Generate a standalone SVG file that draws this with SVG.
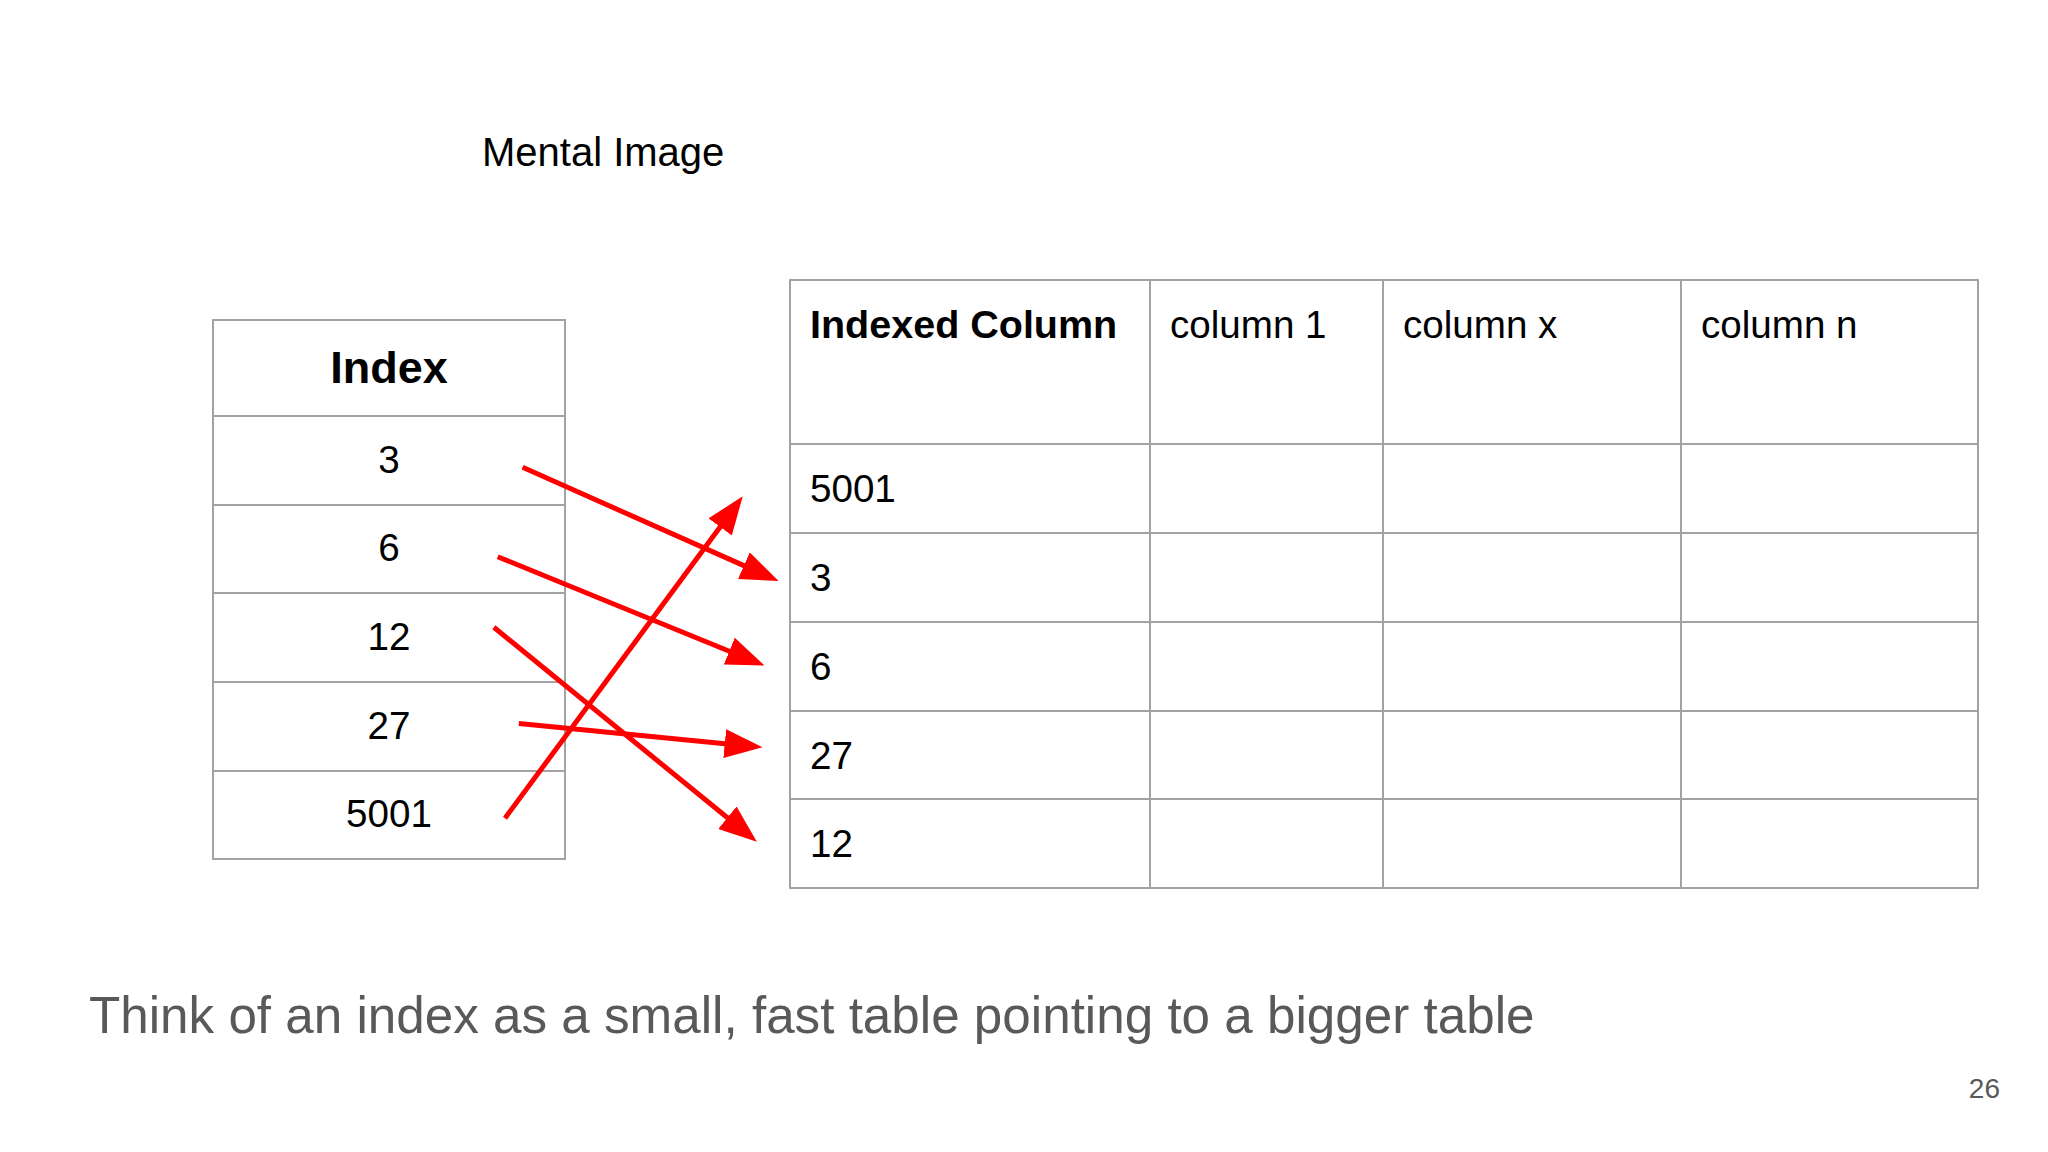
<svg xmlns="http://www.w3.org/2000/svg" width="2048" height="1152" viewBox="0 0 2048 1152">
  <style>
    .grid { fill: none; stroke: #a3a3a3; stroke-width: 2; }
    .t { font-family: "Liberation Sans", Arial, sans-serif; fill: #000; }
    .cell { font-size: 38.6px; }
    .hb { font-weight: bold; }
    .conn { stroke: #ff0000; stroke-width: 5; fill: none; marker-end: url(#ah); }
    .gray { fill: #595959; }
  </style>
  <defs>
    <marker id="ah" markerUnits="userSpaceOnUse" markerWidth="40" markerHeight="30" viewBox="0 0 40 30" refX="8" refY="14.5" orient="auto">
      <path d="M0,0 L38,14.5 L0,29 z" fill="#ff0000"/>
    </marker>
  </defs>
  <rect width="2048" height="1152" fill="#ffffff"/>

  <text class="t" x="482" y="166" font-size="40">Mental Image</text>

  <g id="index-table">
    <rect class="grid" x="213" y="320" width="352" height="539"/>
    <path class="grid" d="M213,416 H565 M213,505 H565 M213,593 H565 M213,682 H565 M213,771 H565"/>
    <text class="t hb" x="389" y="383" font-size="45" text-anchor="middle">Index</text>
    <text class="t cell" x="389" y="473" text-anchor="middle">3</text>
    <text class="t cell" x="389" y="561" text-anchor="middle">6</text>
    <text class="t cell" x="389" y="650" text-anchor="middle">12</text>
    <text class="t cell" x="389" y="739" text-anchor="middle">27</text>
    <text class="t cell" x="389" y="827" text-anchor="middle">5001</text>
  </g>

  <g id="data-table">
    <rect class="grid" x="790" y="280" width="1188" height="608"/>
    <path class="grid" d="M1150,280 V888 M1383,280 V888 M1681,280 V888"/>
    <path class="grid" d="M790,444 H1978 M790,533 H1978 M790,622 H1978 M790,711 H1978 M790,799 H1978"/>
    <text class="t hb" x="810" y="338" font-size="39.5">Indexed Column</text>
    <text class="t cell" x="1170" y="338">column 1</text>
    <text class="t cell" x="1403" y="338">column x</text>
    <text class="t cell" x="1701" y="338">column n</text>
    <text class="t cell" x="810" y="502">5001</text>
    <text class="t cell" x="810" y="591">3</text>
    <text class="t cell" x="810" y="680">6</text>
    <text class="t cell" x="810" y="769">27</text>
    <text class="t cell" x="810" y="857">12</text>
  </g>

  <g id="connectors">
    <line class="conn" x1="522.6" y1="467.3" x2="751.2" y2="568.9"/>
    <line class="conn" x1="497.7" y1="556.7" x2="736.7" y2="654.2"/>
    <line class="conn" x1="493.9" y1="627.3" x2="733.6" y2="822.8"/>
    <line class="conn" x1="518.8" y1="723.6" x2="732.7" y2="744.4"/>
    <line class="conn" x1="505" y1="818.2" x2="724.9" y2="520.5"/>
  </g>

  <text class="t gray" x="89" y="1033" font-size="51.2">Think of an index as a small, fast table pointing to a bigger table</text>
  <text class="t gray" x="2000" y="1098" font-size="28" text-anchor="end">26</text>
</svg>
